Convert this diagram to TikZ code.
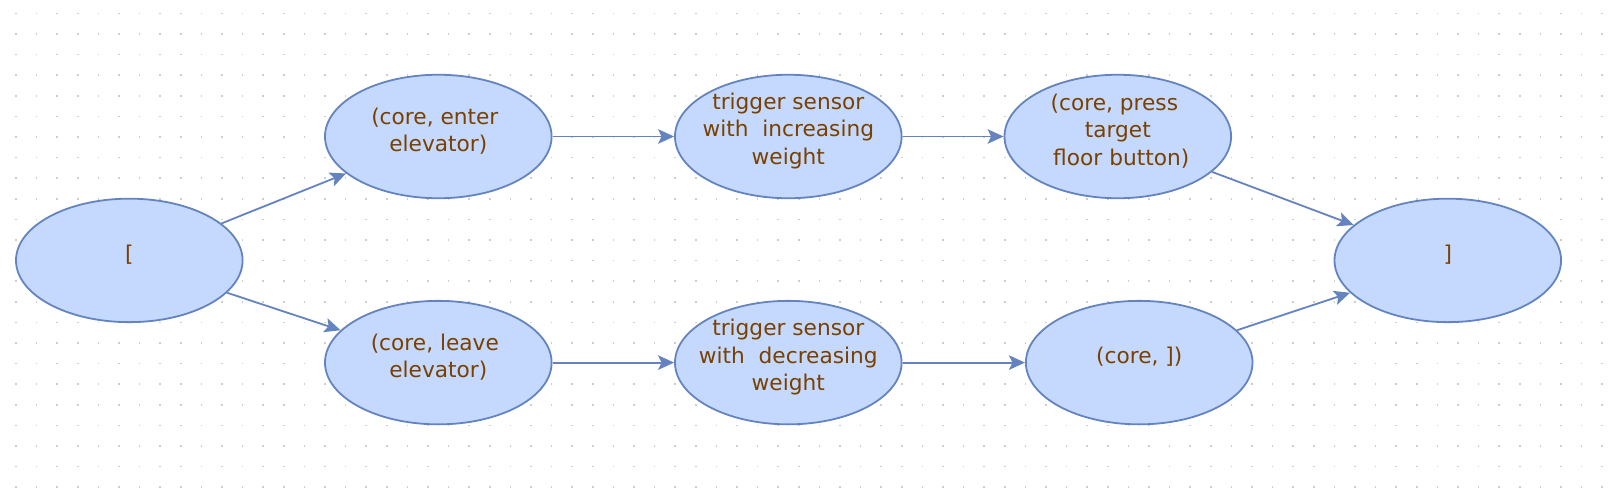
\documentclass[tikz,border=0pt]{standalone}
\usepackage{fontspec}
\setmainfont{DejaVu Sans}
\usetikzlibrary{shapes.geometric,arrows.meta}
\definecolor{nfill}{RGB}{196,217,253}
\definecolor{nline}{RGB}{101,132,191}
\definecolor{ntext}{RGB}{122,64,0}
\definecolor{dotc}{RGB}{205,205,205}
\newcommand{\tsp}{\hspace*{0.318em}}
\begin{document}
\begin{tikzpicture}[x=1pt,y=-1pt,
  ell/.style={ellipse, draw=nline, fill=nfill, line width=1.8pt,
    minimum width=226.6pt, minimum height=123.5pt, inner sep=0pt},
  lbl/.style={text=ntext, font=\fontsize{21.7}{27.2}\selectfont,
    align=center, inner sep=0pt, yshift=5.5pt},
  conn/.style={draw=nline, line width=1.8pt,
    -{Stealth[length=16pt,width=14.5pt,inset=3.5pt]}}
]
\useasboundingbox (0,0) rectangle (1615,501);
\fill[white] (0,0) rectangle (1615,501);
\foreach \i in {0,...,77}{
  \foreach \j in {0,...,23}{
    \fill[dotc] ({16+20.6*\i-0.8},{13.3+20.6*\j-0.8}) rectangle ++(1.6,1.6);
  }
}
\node[ell, label={[lbl]center:{[}}] (L) at (129.3,260.4) {};
\node[ell, label={[lbl]center:{(core, enter\tsp\\elevator)}}] (E) at (438.3,136.5) {};
\node[ell, label={[lbl]center:{trigger sensor\\with~~increasing\tsp\\weight}}] (TI) at (788.3,136.5) {};
\node[ell, label={[lbl]center:{(core, press\tsp\\target\\\tsp floor button)}}] (P) at (1117.8,136.5) {};
\node[ell, label={[lbl]center:{]}}] (R) at (1447.8,260.4) {};
\node[ell, label={[lbl]center:{(core, leave\tsp\\elevator)}}] (LV) at (438.3,362.6) {};
\node[ell, label={[lbl]center:{trigger sensor\\with~~decreasing\tsp\\weight}}] (TD) at (788.3,362.6) {};
\node[ell, label={[lbl]center:{(core, ])}}] (C) at (1139.2,362.6) {};
\draw[conn] (L) -- (E);
\draw[conn] (E) -- (TI);
\draw[conn] (TI) -- (P);
\draw[conn] (P) -- (R);
\draw[conn] (L) -- (LV);
\draw[conn] (LV) -- (TD);
\draw[conn] (TD) -- (C);
\draw[conn] (C) -- (R);
\end{tikzpicture}
\end{document}
